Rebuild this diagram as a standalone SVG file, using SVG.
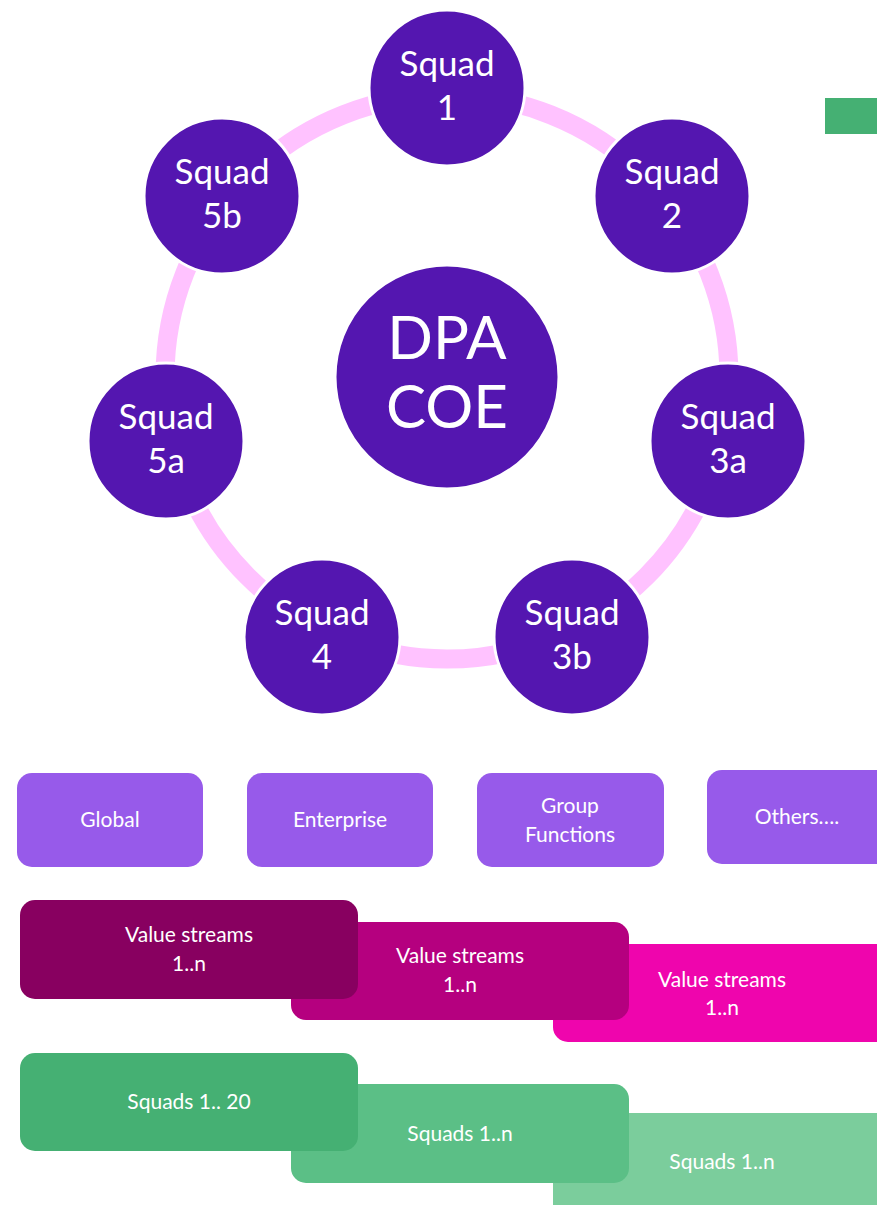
<svg xmlns="http://www.w3.org/2000/svg" width="877" height="1205" viewBox="0 0 877 1205">
<style>
.sq{fill:#5416B0;stroke:#ffffff;stroke-width:3}
.t{font-family:Lato,"Liberation Sans",sans-serif;fill:#ffffff;text-anchor:middle}
.big{font-size:35px}
.huge{font-size:60px}
.sm{font-size:21px}
.box{fill:#975AEA}
</style>
<rect width="877" height="1205" fill="#ffffff"/>
<g id="connectors">
<circle cx="447" cy="377" r="282" fill="none" stroke="#FFC2FF" stroke-width="19"/>
</g>
<g id="legend-green"><rect x="825" y="98" width="60" height="36" fill="#45B073"/></g>
<g id="dpa"><circle class="sq" cx="447" cy="377" r="112"/><text class="t huge" x="447" y="359">DPA</text><text class="t huge" x="447" y="428">COE</text></g>
<g id="squad1"><circle class="sq" cx="447" cy="88" r="78"/><text class="t big" x="447" y="76">Squad</text><text class="t big" x="447" y="120">1</text></g>
<g id="squad2"><circle class="sq" cx="672" cy="196" r="78"/><text class="t big" x="672" y="184">Squad</text><text class="t big" x="672" y="228">2</text></g>
<g id="squad3a"><circle class="sq" cx="728" cy="441" r="78"/><text class="t big" x="728" y="429">Squad</text><text class="t big" x="728" y="473">3a</text></g>
<g id="squad3b"><circle class="sq" cx="572" cy="637" r="78"/><text class="t big" x="572" y="625">Squad</text><text class="t big" x="572" y="669">3b</text></g>
<g id="squad4"><circle class="sq" cx="322" cy="637" r="78"/><text class="t big" x="322" y="625">Squad</text><text class="t big" x="322" y="669">4</text></g>
<g id="squad5a"><circle class="sq" cx="166" cy="441" r="78"/><text class="t big" x="166" y="429">Squad</text><text class="t big" x="166" y="473">5a</text></g>
<g id="squad5b"><circle class="sq" cx="222" cy="196" r="78"/><text class="t big" x="222" y="184">Squad</text><text class="t big" x="222" y="228">5b</text></g>
<g id="global"><rect class="box" x="17" y="773" width="186" height="94" rx="15"/><text class="t sm" x="110" y="827">Global</text></g>
<g id="enterprise"><rect class="box" x="247" y="773" width="186" height="94" rx="15"/><text class="t sm" x="340" y="827">Enterprise</text></g>
<g id="group-functions"><rect class="box" x="477" y="773" width="187" height="94" rx="15"/><text class="t sm" x="570" y="813">Group</text><text class="t sm" x="570" y="842">Functions</text></g>
<g id="others"><rect class="box" x="707" y="770" width="190" height="94" rx="15"/><text class="t sm" x="797" y="824">Others….</text></g>
<g id="vs3"><rect x="553" y="944" width="350" height="98" rx="15" fill="#EF05AD"/><text class="t sm" x="722" y="987">Value streams</text><text class="t sm" x="722" y="1015">1..n</text></g>
<g id="vs2"><rect x="291" y="922" width="338" height="98" rx="15" fill="#B5007F"/><text class="t sm" x="460" y="963">Value streams</text><text class="t sm" x="460" y="992">1..n</text></g>
<g id="vs1"><rect x="20" y="900" width="338" height="99" rx="15" fill="#880060"/><text class="t sm" x="189" y="942">Value streams</text><text class="t sm" x="189" y="971">1..n</text></g>
<g id="sq3"><rect x="553" y="1113" width="350" height="110" rx="15" fill="#7BCD9C"/><text class="t sm" x="722" y="1169">Squads 1..n</text></g>
<g id="sq2"><rect x="291" y="1084" width="338" height="99" rx="15" fill="#5BBF86"/><text class="t sm" x="460" y="1141">Squads 1..n</text></g>
<g id="sq1"><rect x="20" y="1053" width="338" height="98" rx="15" fill="#45B073"/><text class="t sm" x="189" y="1109">Squads 1.. 20</text></g>
</svg>
